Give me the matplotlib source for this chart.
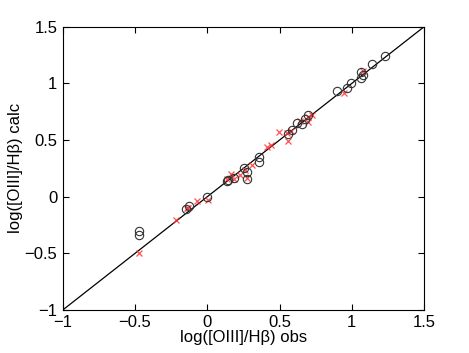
import matplotlib
matplotlib.use("Agg")
import matplotlib.pyplot as plt
import numpy as np

plt.rcParams['font.family'] = ['Liberation Sans', 'DejaVu Sans']

# black circles: observed vs calculated
circ_obs = [-0.472, -0.472, -0.147, -0.124, 0.0, 0.138, 0.145, 0.187, 0.251, 0.272,
            0.272, 0.359, 0.359, 0.562, 0.588, 0.620, 0.657, 0.675, 0.698, 0.896,
            0.968, 0.995, 1.062, 1.062, 1.078, 1.143, 1.230]
circ_calc = [-0.300, -0.338, -0.109, -0.079, 0.0, 0.138, 0.150, 0.162, 0.253, 0.215,
             0.159, 0.350, 0.303, 0.556, 0.588, 0.647, 0.644, 0.688, 0.720, 0.932,
             0.956, 1.003, 1.097, 1.047, 1.079, 1.171, 1.244]

# red crosses
x_obs = [-0.472, -0.214, -0.143, -0.133, -0.071, 0.002, 0.138, 0.166, 0.182, 0.226,
         0.260, 0.274, 0.311, 0.415, 0.438, 0.495, 0.551, 0.558, 0.578, 0.643,
         0.698, 0.698, 0.728, 0.945, 1.076]
x_calc = [-0.497, -0.203, -0.097, -0.100, -0.041, -0.029, 0.156, 0.200, 0.159, 0.191,
          0.235, 0.162, 0.279, 0.441, 0.456, 0.568, 0.565, 0.494, 0.576, 0.668,
          0.659, 0.700, 0.724, 0.915, 1.106]

fig = plt.figure(figsize=(4.69, 3.53), dpi=100)
ax = fig.add_axes([0.134, 0.122, 0.770, 0.802])

ax.plot([-1, 1.5], [-1, 1.5], color='black', linewidth=0.9)
ax.plot(x_obs, x_calc, 'x', color='#ff3030', markersize=4.5, markeredgewidth=0.9, alpha=0.85)
ax.plot(circ_obs, circ_calc, 'o', markerfacecolor='none', markeredgecolor='#333333',
        markersize=6, markeredgewidth=0.8)

ax.set_xlim(-1, 1.5)
ax.set_ylim(-1, 1.5)
ax.set_xticks(np.arange(-1, 1.51, 0.5))
ax.set_yticks(np.arange(-1, 1.51, 0.5))
ax.set_xticklabels(['\u22121', '\u22120.5', '0', '0.5', '1', '1.5'])
ax.set_yticklabels(['\u22121', '\u22120.5', '0', '0.5', '1', '1.5'])
ax.tick_params(direction='in', top=True, right=True, labelsize=12, length=4, pad=4)
ax.set_xlabel('log([OIII]/H\u03b2) obs', fontsize=12, labelpad=0)
ax.set_ylabel('log([OIII]/H\u03b2) calc', fontsize=12, labelpad=1)

fig.savefig('out.png', dpi=100)
